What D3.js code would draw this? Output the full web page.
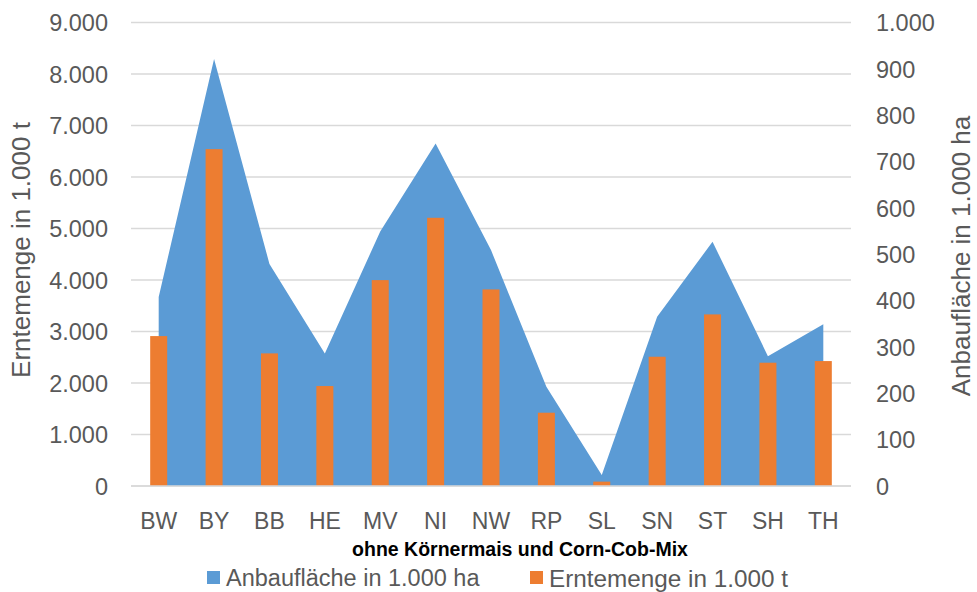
<!DOCTYPE html>
<html lang="de">
<head>
<meta charset="utf-8">
<script src="https://cdn.jsdelivr.net/npm/d3@7"></script>
<style>
  html, body { margin: 0; padding: 0; background: #fff; }
  svg { display: block; font-family: "Liberation Sans", Arial, sans-serif; }
</style>
</head>
<body>
<svg id="chart" width="977" height="592"></svg>
<script>
// Bundesländer
const laender = ["BW", "BY", "BB", "HE", "MV", "NI", "NW", "RP", "SL", "SN", "ST", "SH", "TH"];
// Anbaufläche in 1.000 ha (rechte Achse)
const anbauflaeche = [408, 921, 479, 286, 549, 739, 509, 214, 24, 365, 527, 280, 349];
// Erntemenge in 1.000 t (linke Achse)
const erntemenge = [2911, 6541, 2575, 1941, 3998, 5208, 3817, 1423, 85, 2510, 3332, 2394, 2426];
// Achsenteilung
const ticksLinks = [0, 1000, 2000, 3000, 4000, 5000, 6000, 7000, 8000, 9000];
const ticksRechts = [0, 100, 200, 300, 400, 500, 600, 700, 800, 900, 1000];

const farbeFlaeche = "#5B9BD5";
const farbeMenge = "#ED7D31";
const textFarbe = "#595959";
const gitterFarbe = "#D9D9D9";

const de = d3.formatLocale({ decimal: ",", thousands: ".", grouping: [3], currency: ["", " €"] });
const fmt = de.format(",d");

const svg = d3.select("#chart");
const plot = { left: 131, right: 851, top: 22.5, bottom: 486 };

const x = d3.scaleBand().domain(laender).range([plot.left, plot.right]).paddingInner(0).paddingOuter(0);
const yL = d3.scaleLinear().domain([0, 9000]).range([plot.bottom, plot.top]);
const yR = d3.scaleLinear().domain([0, 1000]).range([plot.bottom, plot.top]);
const cx = d => x(d) + x.bandwidth() / 2;

// Gitterlinien
svg.append("g")
  .selectAll("line")
  .data(ticksLinks)
  .join("line")
  .attr("x1", plot.left).attr("x2", plot.right)
  .attr("y1", d => yL(d)).attr("y2", d => yL(d))
  .attr("stroke", gitterFarbe).attr("stroke-width", 1.3);

// Fläche: Anbaufläche
const flaeche = d3.area()
  .x((d, i) => cx(laender[i]))
  .y0(yR(0))
  .y1(d => yR(d));
svg.append("path")
  .datum(anbauflaeche)
  .attr("d", flaeche)
  .attr("fill", farbeFlaeche);

// Säulen: Erntemenge
const barW = 17;
svg.append("g")
  .selectAll("rect")
  .data(erntemenge)
  .join("rect")
  .attr("x", (d, i) => cx(laender[i]) - barW / 2)
  .attr("width", barW)
  .attr("y", d => yL(d))
  .attr("height", d => yL(0) - yL(d))
  .attr("fill", farbeMenge);

// Grundlinie
svg.append("line")
  .attr("x1", plot.left).attr("x2", plot.right)
  .attr("y1", yL(0)).attr("y2", yL(0))
  .attr("stroke", gitterFarbe).attr("stroke-width", 1.3);

// Linke Achse
const axL = svg.append("g")
  .attr("transform", `translate(${plot.left - 23},0)`)
  .call(d3.axisLeft(yL).tickValues(ticksLinks).tickFormat(fmt).tickSize(0).tickPadding(0));
axL.select(".domain").remove();
axL.selectAll("text").attr("fill", textFarbe).attr("font-size", 23.5)
  .attr("font-family", "'Liberation Sans', Arial, sans-serif").attr("dy", "0.35em");

// Rechte Achse
const axR = svg.append("g")
  .attr("transform", `translate(${plot.right + 25},0)`)
  .call(d3.axisRight(yR).tickValues(ticksRechts).tickFormat(fmt).tickSize(0).tickPadding(0));
axR.select(".domain").remove();
axR.selectAll("text").attr("fill", textFarbe).attr("font-size", 23.5)
  .attr("font-family", "'Liberation Sans', Arial, sans-serif").attr("dy", "0.35em");

// Kategorienachse
const axX = svg.append("g")
  .attr("transform", `translate(0,${plot.bottom + 35})`)
  .call(d3.axisBottom(x).tickSize(0).tickPadding(0));
axX.select(".domain").remove();
axX.selectAll("text").attr("fill", textFarbe).attr("font-size", 23)
  .attr("font-family", "'Liberation Sans', Arial, sans-serif").attr("dy", "0.35em");

// Achsentitel
svg.append("text")
  .attr("transform", "translate(30,250) rotate(-90)")
  .attr("text-anchor", "middle")
  .attr("fill", textFarbe).attr("font-size", 26)
  .text("Erntemenge in 1.000 t");

svg.append("text")
  .attr("transform", "translate(952,256) rotate(-90)")
  .attr("text-anchor", "middle")
  .attr("dy", "0.7em")
  .attr("fill", textFarbe).attr("font-size", 26)
  .text("Anbaufläche in 1.000 ha");

svg.append("text")
  .attr("x", 520).attr("y", 556)
  .attr("text-anchor", "middle")
  .attr("font-weight", "bold")
  .attr("fill", "#000").attr("font-size", 19.5)
  .text("ohne Körnermais und Corn-Cob-Mix");

// Legende
const legende = [
  { name: "Anbaufläche in 1.000 ha", farbe: farbeFlaeche, x: 207, groesse: 23.5 },
  { name: "Erntemenge in 1.000 t", farbe: farbeMenge, x: 530, groesse: 24.3 }
];
const lg = svg.append("g").selectAll("g").data(legende).join("g")
  .attr("transform", d => `translate(${d.x},578)`);
lg.append("rect").attr("x", 0).attr("y", -7).attr("width", 13).attr("height", 13).attr("fill", d => d.farbe);
lg.append("text").attr("x", 19).attr("dy", "0.35em")
  .attr("fill", textFarbe).attr("font-size", d => d.groesse)
  .text(d => d.name);
</script>
</body>
</html>
